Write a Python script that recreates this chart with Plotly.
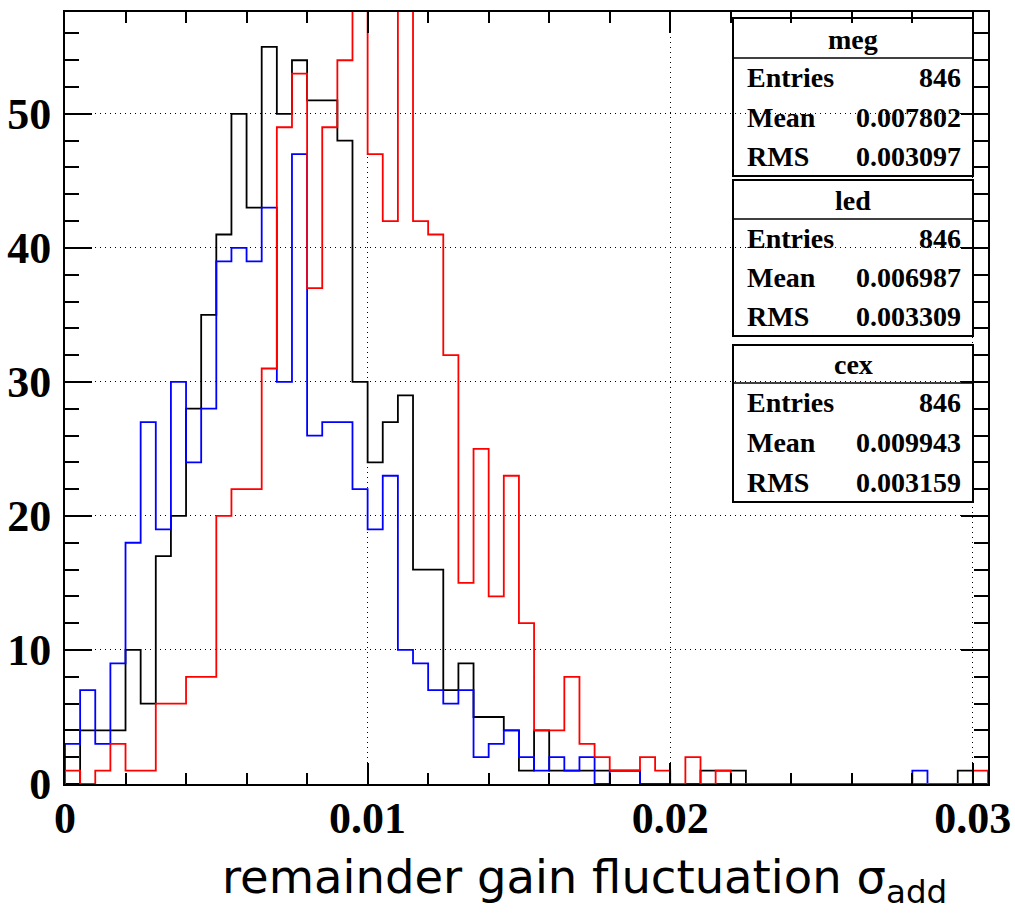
import plotly.graph_objects as go

# ---------------- data ----------------
BIN_WIDTH = 0.0005
N_BINS = 61
X_RANGE = [0.0, 0.0305]
Y_RANGE = [0.0, 57.6]

meg = [0, 4, 4, 4, 10, 6, 17, 20, 28, 35,
       41, 50, 43, 55, 50, 54, 51, 51, 48, 30,
       24, 27, 29, 16, 16, 7, 9, 5, 5, 4,
       1, 4, 1, 1, 1, 1, 1, 1, 0, 0,
       0, 0, 1, 1, 1, 0, 0, 0, 0, 0,
       0, 0, 0, 0, 0, 0, 0, 0, 0, 1,
       0]
led = [3, 7, 3, 9, 18, 27, 19, 30, 24, 28,
       39, 40, 39, 43, 30, 47, 26, 27, 27, 22,
       19, 23, 10, 9, 7, 6, 7, 2, 3, 4,
       2, 1, 2, 1, 2, 0, 1, 1, 0, 0,
       0, 0, 0, 0, 0, 0, 0, 0, 0, 0,
       0, 0, 0, 0, 0, 0, 1, 0, 0, 0,
       0]
cex = [1, 0, 1, 3, 1, 1, 6, 6, 8, 8,
       20, 22, 22, 31, 49, 53, 37, 49, 54, 60,
       47, 42, 62, 42, 41, 32, 15, 25, 14, 23,
       12, 4, 4, 8, 3, 2, 1, 1, 2, 1,
       0, 2, 0, 1, 0, 0, 0, 0, 0, 0,
       0, 0, 0, 0, 0, 0, 0, 0, 0, 0,
       1]

series_names = ["meg", "led", "cex"]
series_colors = ["#000000", "#0000ff", "#ff0000"]
stat_entries = ["846", "846", "846"]
stat_mean = ["0.007802", "0.006987", "0.009943"]
stat_rms = ["0.003097", "0.003309", "0.003159"]

x_title = "remainder gain fluctuation σ<sub>add</sub>"

assert len(meg) == len(led) == len(cex) == N_BINS

# ---------------- figure ----------------
W, H = 1015, 919
L, R, T, B = 65, 27, 12, 135
PW, PH = W - L - R, H - T - B


def px(X):
    return (X - L) / PW


def py(Y):
    return (H - B - Y) / PH


edges = [i * BIN_WIDTH for i in range(N_BINS + 1)]

fig = go.Figure()
for name, vals, col in zip(series_names, [meg, led, cex], series_colors):
    xs = [edges[0]] + edges[:-1] + [edges[-1]]
    ys = [0] + list(vals) + [0]
    fig.add_trace(go.Scatter(x=xs, y=ys, mode="lines", name=name,
                             line=dict(color=col, width=1.8, shape="hv"),
                             showlegend=False, hoverinfo="skip"))

tickfont = dict(family="Liberation Serif", size=44, color="black", weight="bold")
common = dict(showline=True, linecolor="black", linewidth=2, mirror="ticks",
              ticks="inside", tickcolor="black", tickwidth=1.5,
              showgrid=True, gridcolor="black", gridwidth=1, griddash="1px,4px",
              zeroline=False, tickfont=tickfont, automargin=False)

fig.update_xaxes(range=X_RANGE, tick0=0, dtick=0.01, ticklen=21,
                 minor=dict(dtick=0.002, ticks="inside", ticklen=11,
                            tickcolor="black", tickwidth=1.5, showgrid=False),
                 ticklabelstandoff=-6, **common)
fig.update_yaxes(range=Y_RANGE, tick0=0, dtick=10, ticklen=27,
                 minor=dict(dtick=2, ticks="inside", ticklen=14,
                            tickcolor="black", tickwidth=1.5, showgrid=False),
                 ticklabelstandoff=3, **common)

# stat boxes
box_x0, box_x1 = 733, 973
boxes = [(18, 58, 176), (180, 219, 336), (345, 383, 502)]
shapes = []
annotations = []
sfont = dict(family="Liberation Serif", size=28, color="black")
for k, (top, sep, bot) in enumerate(boxes):
    shapes.append(dict(type="rect", xref="paper", yref="paper",
                       x0=px(box_x0), x1=px(box_x1), y0=py(bot), y1=py(top),
                       line=dict(color="black", width=2), fillcolor="rgba(0,0,0,0)"))
    shapes.append(dict(type="line", xref="paper", yref="paper",
                       x0=px(box_x0), x1=px(box_x1), y0=py(sep), y1=py(sep),
                       line=dict(color="black", width=1.5)))
    title_y = (top + sep) / 2
    annotations.append(dict(text="<b>%s</b>" % series_names[k], xref="paper", yref="paper",
                            x=px((box_x0 + box_x1) / 2), y=py(title_y + 1),
                            xanchor="center", yanchor="middle", showarrow=False, font=sfont))
    rows = [("Entries", stat_entries[k]), ("Mean", stat_mean[k]), ("RMS", stat_rms[k])]
    row_h = (bot - sep) / 3
    for j, (lab, val) in enumerate(rows):
        ry = sep + row_h * (j + 0.5)
        annotations.append(dict(text="<b>%s</b>" % lab, xref="paper", yref="paper",
                                x=px(745), y=py(ry), xanchor="left", yanchor="middle",
                                showarrow=False, font=sfont))
        annotations.append(dict(text="<b>%s</b>" % val, xref="paper", yref="paper",
                                x=px(963), y=py(ry), xanchor="right", yanchor="middle",
                                showarrow=False, font=sfont))

annotations.append(dict(text=x_title, xref="paper", yref="paper",
                        x=px(220), y=py(880), xanchor="left", yanchor="middle",
                        showarrow=False,
                        font=dict(family="DejaVu Sans", size=46.5, color="black")))

fig.update_layout(width=W, height=H,
                  margin=dict(l=L, r=R, t=T, b=B, pad=0, autoexpand=False),
                  paper_bgcolor="white", plot_bgcolor="white",
                  shapes=shapes, annotations=annotations, showlegend=False)

fig.write_html("out.html")
